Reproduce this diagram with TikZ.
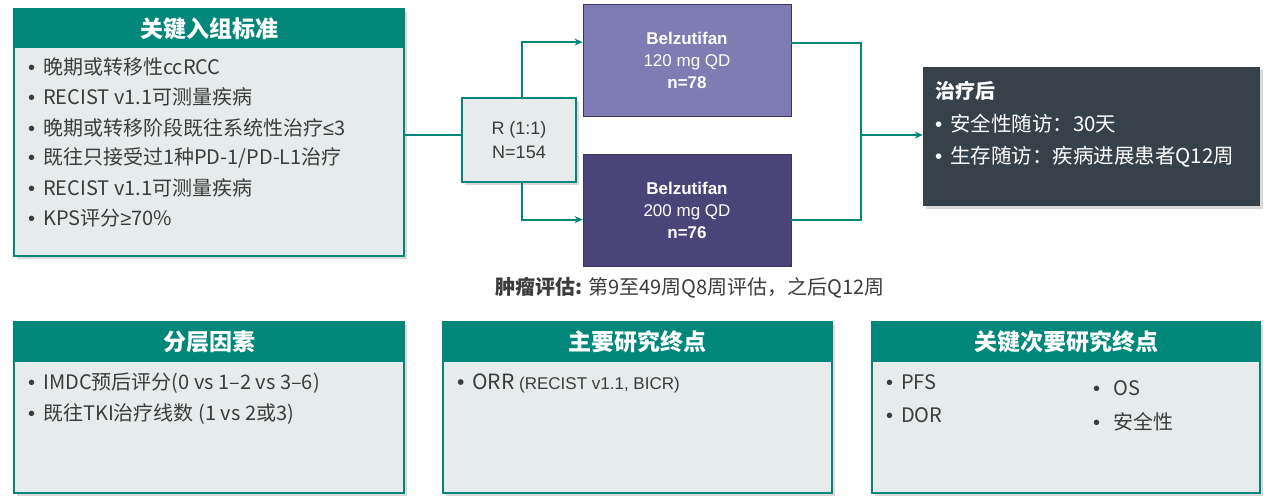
\documentclass[tikz,border=0pt]{standalone}
\usepackage{fontspec}
\setmainfont{Noto Sans CJK SC}
\newfontfamily\arialfont{Liberation Sans}
\usetikzlibrary{calc,shadows,arrows.meta}
\definecolor{tealhead}{HTML}{00877A}
\definecolor{boxgray}{HTML}{E6EBEB}
\definecolor{armlight}{HTML}{7F7BB3}
\definecolor{armdark}{HTML}{4A4479}
\definecolor{slatebox}{HTML}{37414A}
\definecolor{inktext}{HTML}{3C3C3C}
\newcommand{\bul}{\makebox[15pt][l]{\arialfont •}}
\newcommand{\cmpsym}[1]{{\arialfont #1}}

\tikzset{
  shade box/.style={drop shadow={opacity=.3, shadow xshift=3pt, shadow yshift=-3pt}},
  bodybox/.style={draw=tealhead, line width=2pt, fill=boxgray, shade box},
  headbox/.style={fill=tealhead, text=white, inner sep=0pt, font=\fontsize{23}{23}\selectfont\bfseries},
  item/.style={anchor=west, inner sep=0pt, text=inktext, font=\fontsize{20}{20}\selectfont},
  armbox/.style={draw=armdark!80!black, line width=.8pt, text=white, align=center, minimum width=208pt, minimum height=112pt, font=\fontsize{17}{22}\arialfont},
  flow/.style={draw=tealhead, line width=2pt},
}

\begin{document}
\begin{tikzpicture}[x=1pt, y=-1pt]
        \useasboundingbox (0,0) rectangle (1269,498);

        % inclusion criteria
        \node[bodybox, minimum width=390pt, minimum height=247pt] (incl) at (209,132.5) {};
        \node[headbox, minimum width=390pt, minimum height=39pt] (inclhead) at (209,28.5) {关键入组标准};
        \node[item] (i1) at (28,67) {\bul 晚期或转移性ccRCC};
        \node[item] (i2) at (28,97) {\bul RECIST v1.1可测量疾病};
        \node[item] (i3) at (28,128) {\bul 晚期或转移阶段既往系统性治疗\cmpsym{≤}3};
        \node[item] (i4) at (28,158) {\bul 既往只接受过1种PD-1/PD-L1治疗};
        \node[item] (i5) at (28,188) {\bul RECIST v1.1可测量疾病};
        \node[item] (i6) at (28,218) {\bul KPS评分\cmpsym{≥}70\%};

        % randomisation
        \node[bodybox, minimum width=114pt, minimum height=84pt, text=inktext, align=center, font=\fontsize{18}{24}\arialfont] (rand) at (519,140) {R (1:1)\\N=154};

        % treatment arms
        \node[armbox, fill=armlight] (arm1) at (687,60.5) {\textbf{Belzutifan}\\120 mg QD\\\textbf{n=78}};
        \node[armbox, fill=armdark] (arm2) at (687,210) {\textbf{Belzutifan}\\200 mg QD\\\textbf{n=76}};

        % after treatment
        \node[fill=slatebox, minimum width=337pt, minimum height=139pt, shade box] (post) at (1091.5,136.5) {};
        \node[item, text=white, font=\fontsize{20}{20}\selectfont\bfseries] (p0) at (935,91) {治疗后};
        \node[item, text=white, font=\fontsize{20.5}{20}\selectfont] (p1) at (935,124) {\bul 安全性随访：30天};
        \node[item, text=white, font=\fontsize{20.5}{20}\selectfont] (p2) at (935,157) {\bul 生存随访：疾病进展患者Q12周};

        % connectors
        \coordinate (split) at (522,135);
        \coordinate (join) at (861,135);
        \path[flow] (incl.east |- split) to (rand.west |- split);
        \path[flow, -{Stealth[length=8pt, width=7pt]}] (rand.north -| split) |- ($(arm1.north west)+(0,38)$);
        \path[flow, -{Stealth[length=8pt, width=7pt]}] (rand.south -| split) |- ($(arm2.north west)+(0,66)$);
        \path[flow] ($(arm1.north east)+(0,39)$) -| (join) |- ($(arm2.north east)+(0,66)$);
        \path[flow, -{Stealth[length=8pt, width=7pt]}] (join) to (post.west |- join);

        % tumour assessment
        \node[text=inktext, font=\fontsize{20}{20}\selectfont] (assess) at (690,288) {\textbf{肿瘤评估:} 第9至49周Q8周评估，之后Q12周};

        % stratification
        \node[bodybox, minimum width=390pt, minimum height=171pt] (strat) at (209,407.5) {};
        \node[headbox, minimum width=390pt, minimum height=40pt] (strathead) at (209,342) {分层因素};
        \node[item] (s1) at (28,383) {\bul IMDC预后评分(0 vs 1–2 vs 3–6)};
        \node[item] (s2) at (28,414) {\bul 既往TKI治疗线数 (1 vs 2或3)};

        % primary endpoint
        \node[bodybox, minimum width=389pt, minimum height=171pt] (prim) at (637.5,407.5) {};
        \node[headbox, minimum width=389pt, minimum height=40pt] (primhead) at (637.5,342) {主要研究终点};
        \node[item, font=\fontsize{21}{21}\selectfont] (e1) at (457,383) {\bul ORR {\arialfont\fontsize{17}{17}\selectfont (RECIST v1.1, BICR)}};

        % secondary endpoints
        \node[bodybox, minimum width=388pt, minimum height=171pt] (sec) at (1066,407.5) {};
        \node[headbox, minimum width=388pt, minimum height=40pt] (sechead) at (1066,342) {关键次要研究终点};
        \node[item] (k1) at (886,382) {\bul PFS};
        \node[item] (k2) at (886,415) {\bul DOR};
        \node[item] (k3) at (1093,388) {\makebox[20pt][l]{\arialfont •}OS};
        \node[item] (k4) at (1093,422) {\makebox[20pt][l]{\arialfont •}安全性};
\end{tikzpicture}
\end{document}
